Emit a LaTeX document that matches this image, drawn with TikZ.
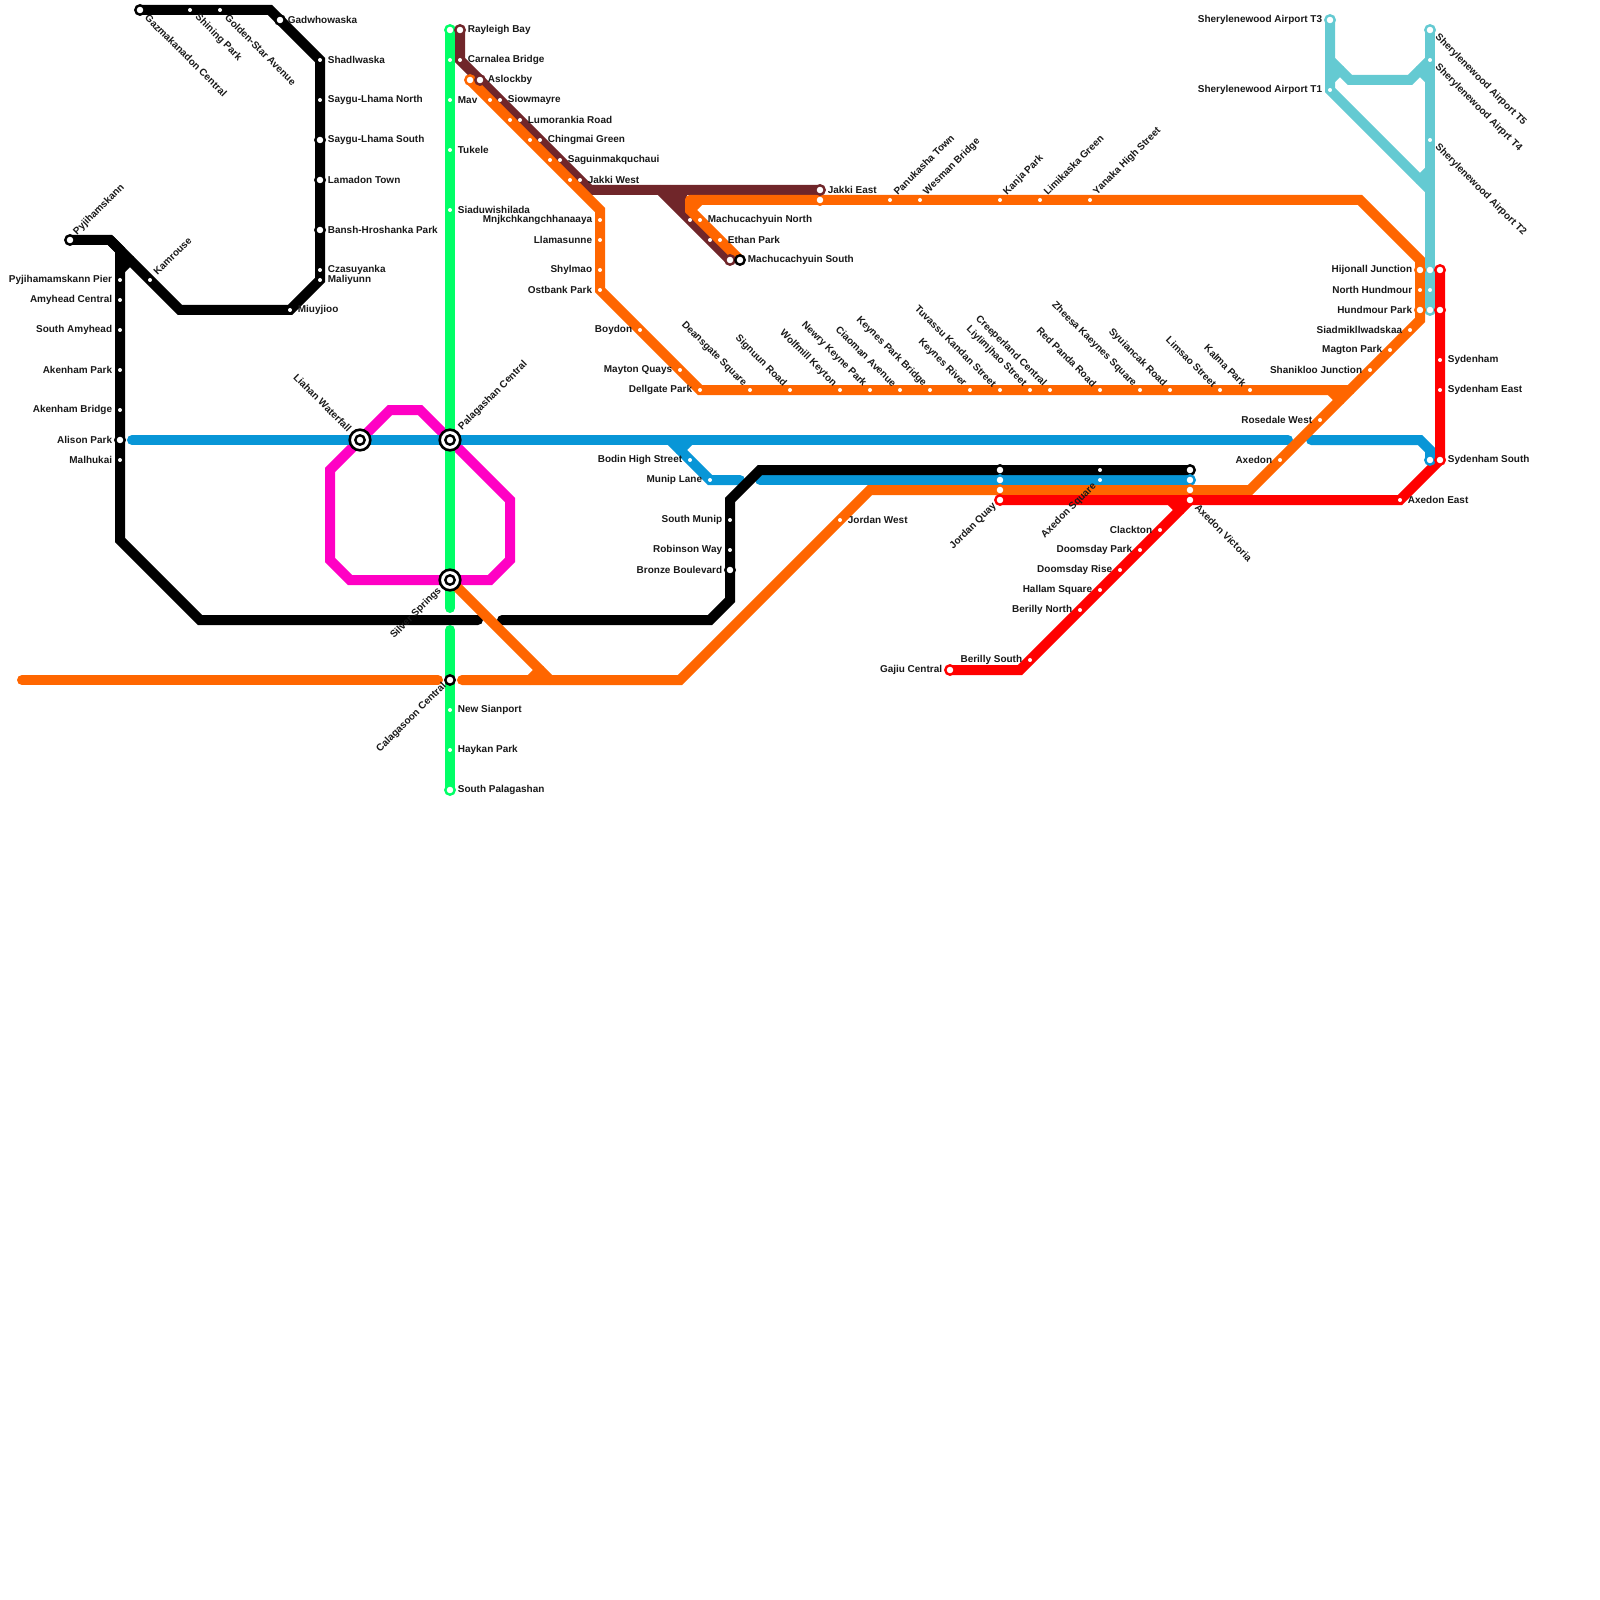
\documentclass[tikz,border=0pt]{standalone}
\usepackage{fontspec}
\setmainfont{Liberation Sans}
\pgfdeclarelayer{lines}
\pgfsetlayers{lines,main}
\definecolor{lineK}{HTML}{000000}
\definecolor{lineB}{HTML}{0896D7}
\definecolor{lineO}{HTML}{FF6600}
\definecolor{lineM}{HTML}{70262A}
\definecolor{lineG}{HTML}{00FF66}
\definecolor{lineP}{HTML}{FF00C4}
\definecolor{lineR}{HTML}{FF0000}
\definecolor{lineC}{HTML}{64CAD2}
\tikzset{
  metro/.style={line width=2.5mm,line cap=round},
  stop/.style={circle,fill=white,inner sep=0,outer sep=0,minimum size=1mm},
  ring/.style={circle,fill=white,draw=#1,line width=.6mm,inner sep=0,minimum size=2.35mm},
  ringK/.style={ring=lineK},
  ringB/.style={ring=lineB},
  ringO/.style={ring=lineO},
  ringM/.style={ring=lineM},
  ringG/.style={ring=lineG},
  ringR/.style={ring=lineR},
  ringC/.style={ring=lineC},
  hub/.style={circle,fill=white,draw=black,line width=.65mm,inner sep=0,minimum size=5.15mm},
  lbl/.style={inner sep=0,text=black!90,font=\bfseries\fontsize{7.1}{8}\selectfont},
  lblE/.style={lbl,anchor=west,xshift=1.9mm},
  lblW/.style={lbl,anchor=east,xshift=-1.9mm},
  lblNE/.style={lbl,anchor=west,xshift=1.28mm,yshift=1.6mm,rotate=45},
  lblSE/.style={lbl,anchor=west,xshift=1.65mm,yshift=-1.47mm,rotate=-45},
  lblNW/.style={lbl,anchor=east,xshift=-1.28mm,yshift=1.22mm,rotate=-45},
  lblSW/.style={lbl,anchor=east,xshift=-1.28mm,yshift=-1.1mm,rotate=45},
  hubNE/.style={lblNE,xshift=1.75mm},
  hubNW/.style={lblNW,xshift=-1.75mm},
  hubSW/.style={lblSW,xshift=-1.75mm},
}
\begin{document}
\begin{tikzpicture}[x=.25mm,y=-.25mm]
  \useasboundingbox (0,0) rectangle (1600,1600);
  \foreach \nm/\x/\y/\kind in {
    greenT/450/30/ringG,
    green1/450/60/stop,
    grassK/1000/470/ringK,
    grassB/1000/480/ringB,
    grassO/1000/490/ringO,
    squareK/1100/470/stop,
    victK/1190/470/ringK,
    victB/1190/480/ringB,
    victO/1190/490/ringO,
    aslockO/470/80/ringO,
    siowO/490/100/stop,
    lumoO/510/120/stop,
    chingO/530/140/stop,
    saguO/550/160/stop,
    jakkiO/570/180/stop,
    eastO/820/200/ringO,
    northM/690/220/stop,
    ethanM/710/240/stop,
    southM/730/260/ringM,
    hijoC/1430/270/ringC,
    hijoR/1440/270/ringR,
    hundC/1430/290/stop,
    parkC/1430/310/ringC,
    parkR/1440/310/ringR,
    termB/1430/460/ringB%
  }
  {\node[\kind] (\nm) at (\x,\y) {};}
  \foreach \nm/\x/\y/\kind/\side/\txt in {
    gazma/140/10/ringK/lblSE/Gazmakanadon Central,
    shining/190/10/stop/lblSE/Shining Park,
    golden/220/10/stop/lblSE/Golden-Star Avenue,
    gadw/280/20/ringK/lblE/Gadwhowaska,
    shadl/320/60/stop/lblE/Shadlwaska,
    sayguN/320/100/stop/lblE/Saygu-Lhama North,
    sayguS/320/140/ringK/lblE/Saygu-Lhama South,
    lamadon/320/180/ringK/lblE/Lamadon Town,
    bansh/320/230/ringK/lblE/Bansh-Hroshanka Park,
    czasu/320/270/stop/lblE/Czasuyanka,
    maliy/320/280/stop/lblE/Maliyunn,
    miuy/290/310/stop/lblE/Miuyjioo,
    kamr/150/280/stop/lblNE/Kamrouse,
    pyji/70/240/ringK/lblNE/Pyjihamskann,
    pier/120/280/stop/lblW/Pyjihamamskann Pier,
    amyC/120/300/stop/lblW/Amyhead Central,
    amyS/120/330/stop/lblW/South Amyhead,
    akenP/120/370/stop/lblW/Akenham Park,
    akenB/120/410/stop/lblW/Akenham Bridge,
    alison/120/440/ringK/lblW/Alison Park,
    malh/120/460/stop/lblW/Malhukai,
    munipS/730/520/stop/lblW/South Munip,
    robin/730/550/stop/lblW/Robinson Way,
    bronze/730/570/ringK/lblW/Bronze Boulevard,
    bodin/690/460/stop/lblW/Bodin High Street,
    munip/710/480/stop/lblW/Munip Lane,
    square/1100/480/stop/lblSW/Axedon Square,
    rayl/460/30/ringM/lblE/Rayleigh Bay,
    carn/460/60/stop/lblE/Carnalea Bridge,
    aslock/480/80/ringM/lblE/Aslockby,
    siow/500/100/stop/lblE/Siowmayre,
    lumo/520/120/stop/lblE/Lumorankia Road,
    ching/540/140/stop/lblE/Chingmai Green,
    sagu/560/160/stop/lblE/Saguinmakquchaui,
    jakki/580/180/stop/lblE/Jakki West,
    east/820/190/ringM/lblE/Jakki East,
    north/700/220/stop/lblE/Machucachyuin North,
    ethan/720/240/stop/lblE/Ethan Park,
    south/740/260/ringK/lblE/Machucachyuin South,
    mav/450/100/stop/lblE/Mav,
    tukele/450/150/stop/lblE/Tukele,
    siadu/450/210/stop/lblE/Siaduwishilada,
    calag/450/680/ringK/lblSW/Calagasoon Central,
    sian/450/710/stop/lblE/New Sianport,
    haykan/450/750/stop/lblE/Haykan Park,
    palS/450/790/ringG/lblE/South Palagashan,
    mnjk/600/220/stop/lblW/Mnjkchkangchhanaaya,
    llama/600/240/stop/lblW/Llamasunne,
    shyl/600/270/stop/lblW/Shylmao,
    ostb/600/290/stop/lblW/Ostbank Park,
    boyd/640/330/stop/lblW/Boydon,
    mayt/680/370/stop/lblW/Mayton Quays,
    dell/700/390/stop/lblW/Dellgate Park,
    deans/750/390/stop/lblNW/Deansgate Square,
    sign/790/390/stop/lblNW/Signuun Road,
    wolf/840/390/stop/lblNW/Wolfmill Keyton,
    newry/870/390/stop/lblNW/Newry Keyne Park,
    ciao/900/390/stop/lblNW/Ciaoman Avenue,
    keynB/930/390/stop/lblNW/Keynes Park Bridge,
    keynR/970/390/stop/lblNW/Keynes River,
    tuva/1000/390/stop/lblNW/Tuvassu Kandan Street,
    liyl/1030/390/stop/lblNW/Liylimjhao Street,
    creep/1050/390/stop/lblNW/Creeperland Central,
    panda/1100/390/stop/lblNW/Red Panda Road,
    zhee/1140/390/stop/lblNW/Zheesa Kaeynes Square,
    syui/1170/390/stop/lblNW/Syuiancak Road,
    limsao/1220/390/stop/lblNW/Limsao Street,
    kalma/1250/390/stop/lblNW/Kalma Park,
    panu/890/200/stop/lblNE/Panukasha Town,
    wesm/920/200/stop/lblNE/Wesman Bridge,
    kanja/1000/200/stop/lblNE/Kanja Park,
    limi/1040/200/stop/lblNE/Limikaska Green,
    yanaka/1090/200/stop/lblNE/Yanaka High Street,
    hijo/1420/270/ringO/lblW/Hijonall Junction,
    hund/1420/290/stop/lblW/North Hundmour,
    park/1420/310/ringO/lblW/Hundmour Park,
    siadm/1410/330/stop/lblW/Siadmikllwadskaa,
    magt/1390/350/stop/lblW/Magton Park,
    shan/1370/370/stop/lblW/Shanikloo Junction,
    rose/1320/420/stop/lblW/Rosedale West,
    axed/1280/460/stop/lblW/Axedon,
    jordW/840/520/stop/lblE/Jordan West,
    gajiu/950/670/ringR/lblW/Gajiu Central,
    berS/1030/660/stop/lblW/Berilly South,
    berN/1080/610/stop/lblW/Berilly North,
    hallam/1100/590/stop/lblW/Hallam Square,
    doomR/1120/570/stop/lblW/Doomsday Rise,
    doomP/1140/550/stop/lblW/Doomsday Park,
    clack/1160/530/stop/lblW/Clackton,
    jordan/1000/500/ringR/lblSW/Jordan Quay,
    vict/1190/500/ringR/lblSE/Axedon Victoria,
    axedE/1400/500/stop/lblE/Axedon East,
    sydS/1440/460/ringR/lblE/Sydenham South,
    sydE/1440/390/stop/lblE/Sydenham East,
    syd/1440/360/stop/lblE/Sydenham,
    airT3/1330/20/ringC/lblW/Sherylenewood Airport T3,
    airT1/1330/90/stop/lblW/Sherylenewood Airport T1,
    airT5/1430/30/ringC/lblSE/Sherylenewood Airport T5,
    airT4/1430/60/stop/lblSE/Sherylenewood Airprt T4,
    airT2/1430/140/stop/lblSE/Sherylenewood Airport T2%
  }
  {
    \node[\kind] (\nm) at (\x,\y) {};
    \node[\side] (\nm-lbl) at (\x,\y) {\txt};
  }
  \foreach \nm/\x/\y/\side/\txt in {
    liahan/360/440/hubNW/Liahan Waterfall,
    palag/450/440/hubNE/Palagashan Central,
    silver/450/580/hubSW/Silver Springs%
  }
  {
    \node[hub] (\nm) at (\x,\y) {};
    \node[ringK] (\nm-in) at (\x,\y) {};
    \node[\side] (\nm-lbl) at (\x,\y) {\txt};
  }
  \foreach \nm/\x/\y in {
    k1/270/10,k2/180/310,k3/110/240,k4/120/250,k5/120/540,k6/200/620,
    k7/478/620,k8/502/620,k9/710/620,k10/730/600,k11/730/500,k12/760/470,
    k13/120/270,k14/130/260,
    b1/132/440,b2/1288/440,b3/1311/440,b4/1420/440,b5/1430/450,b6/670/440,
    b7/740/480,b8/690/440,b9/680/450,b10/760/480,
    o1/22/680,o2/438/680,o3/462/680,o4/680/680,o5/870/490,o6/1250/490,
    o7/1420/320,o8/1420/260,o9/1360/200,o10/690/200,o11/690/210,o12/700/200,
    o13/600/210,o14/1350/390,o15/1330/390,o16/1340/400,o17/550/680,
    o18/530/680,o19/540/670,
    m1/590/190,m2/660/190,m3/670/190,m4/685/205,m5/680/190,
    g1/450/608,g2/450/630,
    p1/330/470,p2/390/410,p3/420/410,p4/510/500,p5/510/560,p6/490/580,
    p7/350/580,p8/330/560,
    r1/1020/670,r2/1170/500,r3/1180/510,
    c1/1430/190,c2/1330/60,c3/1350/80,c4/1410/80,c5/1330/80,c6/1340/70,
    c7/1420/70,c8/1430/80,c9/1420/180,c10/1430/170%
  }
  {\coordinate (\nm) at (\x,\y);}
  \begin{pgfonlayer}{lines}
    \draw[metro,lineP] (p1)--(p2)--(p3)--(p4)--(p5)--(p6)--(p7)--(p8)--cycle;
    \draw[metro,lineG] (greenT.center)--(g1);
    \draw[metro,lineG] (g2)--(palS.center);
    \draw[metro,lineB] (b1)--(b2);
    \draw[metro,lineB] (b3)--(b4)--(b5)--(termB.center);
    \draw[metro,lineB] (b6)--(munip.center)--(b7);
    \draw[metro,lineB] (b8)--(b9);
    \draw[metro,lineB] (b10)--(victB.center);
    \draw[metro,lineK] (gazma.center)--(k1)--(shadl.center)--(maliy.center)--(miuy.center)--(k2)--(k3)--(pyji.center);
    \draw[metro,lineK] (k3)--(k4)--(k5)--(k6)--(k7);
    \draw[metro,lineK] (k13)--(k14);
    \draw[metro,lineK] (k8)--(k9)--(k10)--(k11)--(k12)--(victK.center);
    \draw[metro,lineM] (rayl.center)--(carn.center)--(m1)--(east.center);
    \draw[metro,lineM] (m2)--(southM.center);
    \draw[metro,lineM] (m3)--(m4)--(m5);
    \draw[metro,lineO] (o1)--(o2);
    \draw[metro,lineO] (o3)--(o4)--(o5)--(o6)--(o7)--(o8)--(o9)--(o10);
    \draw[metro,lineO] (o10)--(o11)--(south.center);
    \draw[metro,lineO] (o12)--(o11);
    \draw[metro,lineO] (aslockO.center)--(o13)--(ostb.center)--(dell.center)--(o14);
    \draw[metro,lineO] (o15)--(o16);
    \draw[metro,lineO] (silver.center)--(o17);
    \draw[metro,lineO] (o18)--(o19);
    \draw[metro,lineR] (gajiu.center)--(r1)--(vict.center);
    \draw[metro,lineR] (r2)--(r3);
    \draw[metro,lineR] (jordan.center)--(axedE.center)--(sydS.center)--(hijoR.center);
    \draw[metro,lineC] (airT3.center)--(airT1.center)--(c1);
    \draw[metro,lineC] (airT5.center)--(parkC.center);
    \draw[metro,lineC] (c2)--(c3)--(c4)--(airT4.center);
    \draw[metro,lineC] (c5)--(c6);
    \draw[metro,lineC] (c7)--(c8);
    \draw[metro,lineC] (c9)--(c10);
  \end{pgfonlayer}
\end{tikzpicture}
\end{document}
